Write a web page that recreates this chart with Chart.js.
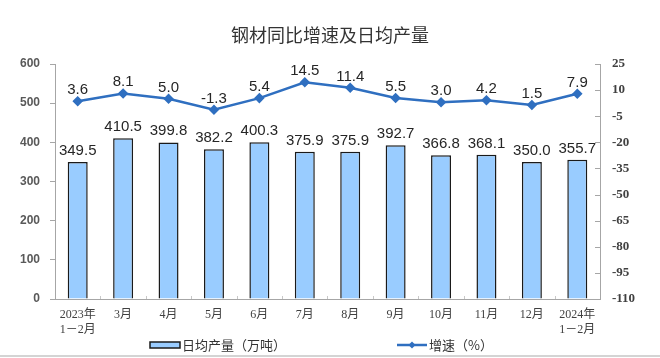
<!DOCTYPE html>
<html>
<head>
<meta charset="utf-8">
<script src="https://cdn.jsdelivr.net/npm/chart.js@4.4.1/dist/chart.umd.min.js"></script>
<style>
  html, body { margin: 0; padding: 0; background: #fff; }
  #wrap { position: relative; width: 660px; height: 358px; }
  #bottomline { position: absolute; left: 0; top: 355px; width: 660px; height: 2px; background: #d4d4d4; }
</style>
</head>
<body>
<div id="wrap">
  <canvas id="c" width="660" height="358"></canvas>
  <div id="bottomline"></div>
</div>
<script>
const categories = [
  ['2023年', '1－2月'], '3月', '4月', '5月', '6月', '7月', '8月', '9月', '10月', '11月', '12月', ['2024年', '1－2月']
];
const dailyOutput = [349.5, 410.5, 399.8, 382.2, 400.3, 375.9, 375.9, 392.7, 366.8, 368.1, 350.0, 355.7];
const growthRate = [3.6, 8.1, 5.0, -1.3, 5.4, 14.5, 11.4, 5.5, 3.0, 4.2, 1.5, 7.9];
const leftTicks = { min: 0, max: 600, step: 100 };
const rightTicks = { min: -110, max: 25, step: 15 };
const barLabel = '日均产量（万吨）';
const lineLabel = '增速（%）';
const titleText = '钢材同比增速及日均产量';

const BAR_FILL = '#99CCFF';
const LINE_COLOR = '#2F6FC0';
const AXIS_COLOR = '#a6a6a6';
const TEXT = '#333333';
const CJK = '"Noto Sans CJK SC", "Liberation Sans", sans-serif';

const extrasPlugin = {
  id: 'extras',
  afterDatasetsDraw(chart) {
    const ctx = chart.ctx;
    const area = chart.chartArea;
    ctx.save();
    // data labels
    ctx.fillStyle = '#262626';
    ctx.font = '15px "Liberation Sans", Arial, sans-serif';
    ctx.textAlign = 'center';
    ctx.textBaseline = 'alphabetic';
    chart.data.datasets.forEach((ds, di) => {
      const meta = chart.getDatasetMeta(di);
      meta.data.forEach((el, i) => {
        const v = ds.data[i];
        ctx.fillText(v.toFixed(1), el.x, el.y - 7);
      });
    });
    // right axis inner ticks
    const y1 = chart.scales.y1;
    ctx.strokeStyle = AXIS_COLOR;
    ctx.lineWidth = 1;
    y1.ticks.forEach((t, i) => {
      const py = Math.round(y1.getPixelForTick(i)) + 0.5;
      ctx.beginPath();
      ctx.moveTo(area.right - 5, py);
      ctx.lineTo(area.right, py);
      ctx.stroke();
    });
    // x axis minor marks at category boundaries
    const xs = chart.scales.x;
    const n = chart.data.labels.length;
    const half = (xs.getPixelForValue(1) - xs.getPixelForValue(0)) / 2;
    ctx.strokeStyle = '#c8c8c8';
    for (let i = 0; i < n - 1; i++) {
      const px = Math.round(xs.getPixelForValue(i) + half) + 0.5;
      ctx.beginPath();
      ctx.moveTo(px, area.bottom);
      ctx.lineTo(px, area.bottom - 3);
      ctx.stroke();
    }
    ctx.restore();
  },
  afterDraw(chart) {
    const ctx = chart.ctx;
    ctx.save();
    const ly = 345;
    // bar legend
    ctx.fillStyle = BAR_FILL;
    ctx.strokeStyle = '#1a1a1a';
    ctx.lineWidth = 1.5;
    ctx.fillRect(150, ly - 3, 30, 6);
    ctx.strokeRect(150, ly - 3, 30, 6);
    ctx.fillStyle = TEXT;
    ctx.font = '13px ' + CJK;
    ctx.textAlign = 'left';
    ctx.textBaseline = 'middle';
    ctx.fillText(barLabel, 182, ly);
    // line legend
    ctx.strokeStyle = LINE_COLOR;
    ctx.lineWidth = 2.5;
    ctx.beginPath();
    ctx.moveTo(397, ly);
    ctx.lineTo(427, ly);
    ctx.stroke();
    ctx.fillStyle = LINE_COLOR;
    ctx.beginPath();
    ctx.moveTo(412, ly - 3.5);
    ctx.lineTo(415.5, ly);
    ctx.lineTo(412, ly + 3.5);
    ctx.lineTo(408.5, ly);
    ctx.closePath();
    ctx.fill();
    ctx.fillStyle = TEXT;
    ctx.fillText(lineLabel, 429, ly);
    ctx.restore();
  }
};

new Chart(document.getElementById('c'), {
  data: {
    labels: categories,
    datasets: [
      {
        type: 'line',
        label: lineLabel,
        data: growthRate,
        yAxisID: 'y1',
        borderColor: LINE_COLOR,
        backgroundColor: LINE_COLOR,
        borderWidth: 2.5,
        pointStyle: 'rectRot',
        pointRadius: 3.5,
        pointBackgroundColor: LINE_COLOR,
        pointBorderColor: LINE_COLOR,
        tension: 0,
        order: 0
      },
      {
        type: 'bar',
        label: barLabel,
        data: dailyOutput,
        yAxisID: 'y',
        backgroundColor: BAR_FILL,
        borderColor: '#1a1a1a',
        borderWidth: 1.5,
        barPercentage: 0.44,
        categoryPercentage: 1,
        order: 1
      }
    ]
  },
  options: {
    responsive: false,
    animation: false,
    devicePixelRatio: 1,
    layout: { padding: { left: 0, right: 0, top: 0, bottom: 23 } },
    plugins: {
      legend: { display: false },
      tooltip: { enabled: false },
      title: {
        display: true,
        text: titleText,
        color: '#333333',
        font: { family: CJK, size: 18, weight: 'normal', lineHeight: 1.2 },
        padding: { top: 24, bottom: 18.4 }
      }
    },
    scales: {
      x: {
        offset: true,
        grid: { display: false, drawTicks: false },
        border: { display: true, color: AXIS_COLOR, width: 1 },
        ticks: {
          color: '#404040',
          font: { family: '"Liberation Serif", "Noto Sans CJK SC", serif', size: 12, lineHeight: '15px' },
          padding: 8,
          maxRotation: 0,
          autoSkip: false
        },
        afterFit(s) { s.height = 36; }
      },
      y: {
        position: 'left',
        min: leftTicks.min,
        max: leftTicks.max,
        ticks: {
          stepSize: leftTicks.step,
          color: '#595959',
          font: { family: '"Liberation Sans", Arial, sans-serif', size: 12, weight: 'bold' },
          padding: 10
        },
        grid: { drawOnChartArea: false, drawTicks: true, tickLength: 5, color: AXIS_COLOR },
        border: { display: true, color: AXIS_COLOR, width: 1 },
        afterFit(s) { s.width = 55; }
      },
      y1: {
        position: 'right',
        min: rightTicks.min,
        max: rightTicks.max,
        ticks: {
          stepSize: rightTicks.step,
          color: '#404040',
          font: { family: '"Liberation Serif", "Times New Roman", serif', size: 13, weight: 'bold' },
          padding: 12
        },
        grid: { drawOnChartArea: false, drawTicks: false },
        border: { display: true, color: AXIS_COLOR, width: 1 },
        afterFit(s) { s.width = 60; }
      }
    }
  },
  plugins: [extrasPlugin]
});
</script>
</body>
</html>
